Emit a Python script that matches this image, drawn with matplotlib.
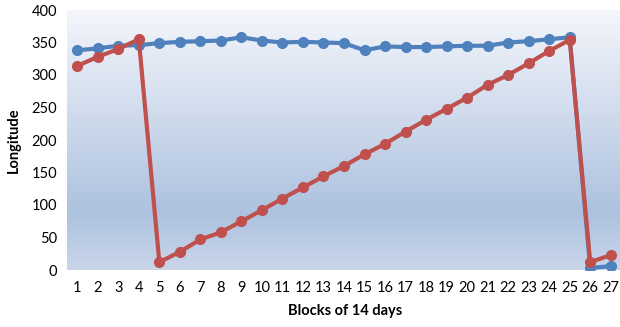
import numpy as np
import matplotlib.pyplot as plt
from matplotlib.colors import LinearSegmentedColormap

blocks = list(range(1, 28))
blue_vals = [338, 341, 345, 346, 349, 351, 352, 353, 358, 353, 350, 351, 350, 349, 338,
             344, 343, 343, 344, 345, 345, 350, 352, 355, 358, 3, 6]
red_vals = [314, 328, 340, 355, 12, 28, 47, 58, 75, 92, 110, 127, 144, 160, 178,
            194, 213, 231, 248, 265, 285, 300, 318, 337, 354, 12, 23]

plt.rcParams['font.family'] = ['Lato', 'DejaVu Sans']

fig = plt.figure(figsize=(6.2, 3.27), dpi=100)
ax = fig.add_axes([67 / 620, 1 - 270 / 327, 554 / 620, 260 / 327])

# gradient background of the plot area
cmap = LinearSegmentedColormap.from_list(
    "bg", [(0.0, "#f4f6fb"), (0.78, "#adc2df"), (1.0, "#c9d6ea")])
grad = np.linspace(0, 1, 256).reshape(-1, 1)
ax.imshow(grad, cmap=cmap, aspect="auto", extent=[0, 1, 0, 1],
          transform=ax.transAxes, zorder=0)

ax.plot(blocks, blue_vals, color="#4f81bd", lw=3, marker="o", ms=7, zorder=3)
ax.plot(blocks, red_vals, color="#c0504d", lw=3, marker="o", ms=7, zorder=4)

ax.set_xlim(0.5, 27.5)
ax.set_ylim(0, 400)
ax.set_xticks(blocks)
ax.set_yticks(range(0, 401, 50))
ax.tick_params(length=0, labelsize=10.5, colors="#000000")
ax.tick_params(axis="x", pad=8)
ax.tick_params(axis="y", pad=7)
for s in ax.spines.values():
    s.set_visible(False)

fig.text(345 / 620, 1 - 311 / 327, "Blocks of 14 days", ha="center", va="center",
         fontsize=10.5, fontweight="bold")
fig.text(14 / 620, 1 - 140 / 327, "Longitude", ha="center", va="center",
         rotation=90, fontsize=10.5, fontweight="bold")

plt.savefig("out.png", dpi=100)
plt.close()
